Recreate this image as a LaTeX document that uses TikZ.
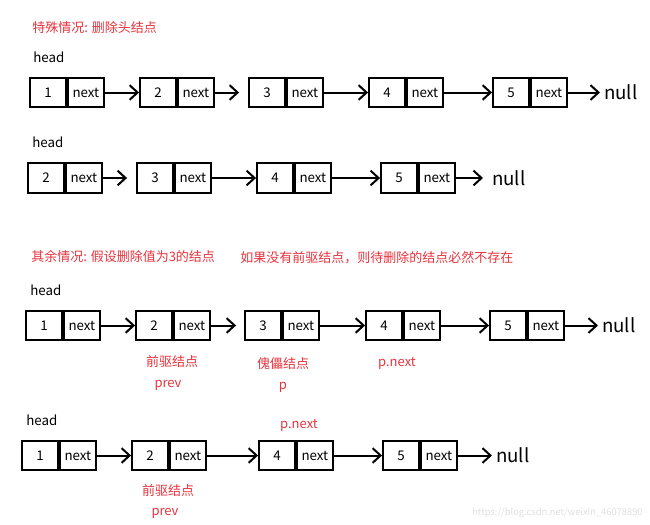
\documentclass[tikz,border=0pt]{standalone}
\usepackage{fontspec}
\setmainfont{Noto Sans CJK SC}
\usepackage{tikz}
\usetikzlibrary{arrows.meta,positioning}
\definecolor{notered}{RGB}{232,52,62}
\tikzset{
  valcell/.style={draw,line width=1.4pt,inner sep=0pt,minimum width=27pt,minimum height=22pt,font=\fontsize{10}{12}\selectfont},
  link/.style={line width=1.5pt,-{Straight Barb[length=6pt,width=11pt]}},
  nulltext/.style={anchor=west,inner sep=0pt,font=\fontsize{14}{16}\selectfont},
  headtext/.style={anchor=west,inner sep=0pt,font=\fontsize{10}{12}\selectfont},
  redtext/.style={inner sep=0pt,text=notered,font=\fontsize{9.75}{12}\selectfont},
}

\begin{document}
\begin{tikzpicture}[x=0.75pt,y=-0.75pt]
\fill[white] (0,0) rectangle (650,525);
\useasboundingbox (0,0) rectangle (650,525);
% first case: delete the head
\node[redtext,anchor=west] (title1) at (32,28) {特殊情况: 删除头结点};
\node[headtext] (head1) at (33,57) {head};
\foreach \v/\x [count=\i] in {1/30,2/140,3/249,4/369,5/493}
  {\node[valcell] (r1v\i) at (\x+18,92.5) {\v};
   \node[valcell,right=0pt of r1v\i] (r1n\i) {next};}
\node[nulltext] (null1) at (604,92.5) {null};
\draw[link] (r1n1) -- (r1v2);
\draw[link,shorten >=6.75pt] (r1n2) -- (r1v3);
\draw[link] (r1n3) -- (r1v4);
\draw[link] (r1n4) -- (r1v5);
\draw[link,shorten >=3pt] (r1n5) -- (null1);
\node[headtext] (head2) at (32,142) {head};
\foreach \v/\x [count=\i] in {2/28,3/137,4/257,5/381}
  {\node[valcell] (r2v\i) at (\x+18,178) {\v};
   \node[valcell,right=0pt of r2v\i] (r2n\i) {next};}
\node[nulltext] (null2) at (492,178) {null};
\draw[link,shorten >=6.75pt] (r2n1) -- (r2v2);
\draw[link] (r2n2) -- (r2v3);
\draw[link] (r2n3) -- (r2v4);
\draw[link,shorten >=6.75pt] (r2n4) -- (null2);
% other cases: delete the value 3
\node[redtext,anchor=west] (title2) at (31,257) {其余情况: 假设删除值为3的结点};
\node[redtext,anchor=west] (title3) at (240,258) {如果没有前驱结点，则待删除的结点必然不存在};
\node[headtext] (head3) at (30,290) {head};
\foreach \v/\x [count=\i] in {1/26,2/136,3/245,4/366,5/490}
  {\node[valcell] (r3v\i) at (\x+18,325.5) {\v};
   \node[valcell,right=0pt of r3v\i] (r3n\i) {next};}
\node[nulltext] (null3) at (602,325.5) {null};
\draw[link] (r3n1) -- (r3v2);
\draw[link,shorten >=6pt] (r3n2) -- (r3v3);
\draw[link] (r3n3) -- (r3v4);
\draw[link] (r3n4) -- (r3v5);
\draw[link,shorten >=3pt] (r3n5) -- (null3);
\node[redtext] (pre3) at (172,362) {前驱结点};
\node[redtext] (prev3) at (168,385) {prev};
\node[redtext] (dummy3) at (283,364) {傀儡结点};
\node[redtext] (p3) at (283,387) {p};
\node[redtext] (pnext3) at (397,363) {p.next};
\node[headtext] (head4) at (26,420) {head};
\foreach \v/\x [count=\i] in {1/22,2/132,4/259,5/383}
  {\node[valcell] (r4v\i) at (\x+18,455.5) {\v};
   \node[valcell,right=0pt of r4v\i] (r4n\i) {next};}
\node[nulltext] (null4) at (496,455.5) {null};
\draw[link] (r4n1) -- (r4v2);
\draw[link] (r4n2) -- (r4v3);
\draw[link] (r4n3) -- (r4v4);
\draw[link,shorten >=3pt] (r4n4) -- (null4);
\node[redtext] (pnext4) at (299,425) {p.next};
\node[redtext] (pre4) at (168,491) {前驱结点};
\node[redtext] (prev4) at (165,513) {prev};
\node[anchor=west,inner sep=0pt,text=black!12,font=\fontsize{7}{8}\selectfont] (mark) at (472,513) {https://blog.csdn.net/weixin\_46078890};
\end{tikzpicture}
\end{document}
